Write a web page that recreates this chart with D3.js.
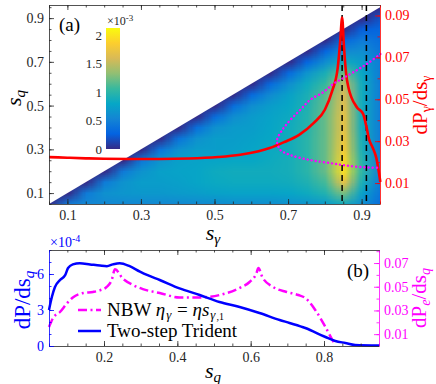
<!DOCTYPE html>
<html>
<head>
<meta charset="utf-8">
<script src="https://cdn.jsdelivr.net/npm/d3@7"></script>
<style>
  body { margin: 0; background: #fff; }
</style>
</head>
<body>
<svg id="fig" width="436" height="384"></svg>
<script>
// ---- data ----

// heat map nodes (s_gamma columns, s_q rows), values in units of 1e-3
var sgNodes = [0.05,0.10,0.15,0.20,0.25,0.30,0.35,0.40,0.45,0.50,0.55,0.60,0.65,0.70,0.75,0.80,0.85,0.90,0.95];
var sqNodes = [0.05,0.10,0.15,0.20,0.25,0.30,0.35,0.40,0.45,0.50,0.55,0.60,0.65,0.70,0.75,0.80,0.85,0.90,0.95];
// row j holds the values for s_gamma = sqNodes[j] ... 0.95 (diagonal first)
var heatRows = [
  [0, .45, .55, .55, .55, .55, .55, .56, .57, .58, .6, .6, .6, .62, .65, .7, .85, .6, .35],
  [0, .45, .62, .66, .68, .68, .7, .72, .75, .76, .76, .76, .78, .84, .95, 1.25, .75, .4],
  [0, .45, .64, .72, .72, .74, .78, .82, .84, .84, .84, .86, .93, 1.1, 1.7, .9, .45],
  [0, .45, .64, .74, .76, .78, .84, .86, .86, .86, .88, .98, 1.2, 1.95, 1.0, .5],
  [0, .42, .64, .74, .76, .78, .8, .8, .84, .88, .98, 1.2, 1.9, .95, .5],
  [0, .4, .62, .72, .72, .74, .78, .82, .86, .98, 1.2, 1.8, .9, .45],
  [0, .38, .62, .72, .72, .75, .8, .86, .98, 1.2, 1.75, .88, .45],
  [0, .36, .62, .7, .72, .78, .85, .96, 1.2, 1.7, .85, .45],
  [0, .35, .6, .7, .76, .83, .95, 1.2, 1.7, .85, .45],
  [0, .34, .6, .72, .8, .93, 1.18, 1.65, .85, .45],
  [0, .33, .58, .75, .9, 1.15, 1.6, .85, .45],
  [0, .32, .6, .84, 1.05, 1.5, .85, .45],
  [0, .32, .65, .9, 1.2, .8, .45],
  [0, .3, .6, .85, .7, .45],
  [0, .3, .55, .6, .4],
  [0, .3, .45, .35],
  [0, .25, .3],
  [0, .2],
  [0]
];
var cbTicks = [0, 0.5, 1, 1.5, 2];
var cbMax = 2.12;

// red solid curve, panel (a): dP_gamma/ds_gamma
var sgRed = [0.05,0.10,0.15,0.20,0.27,0.35,0.43,0.51,0.57,0.62,0.65,0.69,0.73,0.77,0.80,0.82,0.835,0.842,0.847,0.852,0.858,0.865,0.872,0.888,0.904,0.913,0.92,0.93,0.94,0.951];
var dPg = [0.0224,0.0221,0.0218,0.0216,0.0215,0.0215,0.0217,0.0224,0.0235,0.0252,0.0267,0.0296,0.033,0.0387,0.045,0.054,0.065,0.078,0.089,0.075,0.062,0.055,0.051,0.046,0.043,0.037,0.031,0.027,0.022,0.0105];

// magenta dotted curve, panel (a)
var sgDot = [0.951,0.918,0.888,0.85,0.823,0.796,0.76,0.733,0.706,0.684,0.67,0.672,0.679,0.706,0.76,0.815,0.85,0.896,0.951];
var sqDot = [0.736,0.695,0.663,0.626,0.599,0.562,0.526,0.48,0.434,0.388,0.343,0.32,0.297,0.274,0.251,0.237,0.228,0.219,0.215];

// black dashed markers, panel (a)
var sgMarks = [0.847, 0.913];

// panel (b): two-step trident (x1e-4) and NBW
var sqBlue = [0.05,0.058,0.066,0.08,0.094,0.102,0.115,0.134,0.162,0.189,0.208,0.224,0.243,0.27,0.298,0.319,0.352,0.406,0.461,0.515,0.57,0.624,0.679,0.706,0.749,0.804,0.831,0.858,0.885,0.95];
var dPq = [3.0,4.1,4.9,5.5,5.9,6.5,6.8,6.9,6.8,6.7,6.65,6.8,6.9,6.65,6.2,5.9,5.5,4.8,4.25,3.67,3.25,2.75,2.17,1.92,1.5,0.75,0.42,0.25,0.08,0.04];
var sqMag = [0.05,0.061,0.08,0.099,0.115,0.143,0.17,0.189,0.208,0.221,0.23,0.251,0.279,0.306,0.352,0.406,0.461,0.515,0.57,0.597,0.616,0.621,0.632,0.66,0.698,0.73,0.749,0.777,0.804,0.823,0.831];
var dPe = [0.016,0.0236,0.0287,0.036,0.041,0.0447,0.0456,0.047,0.05,0.0557,0.0647,0.057,0.0515,0.048,0.0447,0.041,0.041,0.043,0.049,0.054,0.0616,0.0658,0.058,0.05,0.0456,0.043,0.0405,0.030,0.016,0.005,0.0008];

// ticks
var sTicks = [0.1, 0.3, 0.5, 0.7, 0.9];
var sMinor = [0.05,0.1,0.15,0.2,0.25,0.3,0.35,0.4,0.45,0.5,0.55,0.6,0.65,0.7,0.75,0.8,0.85,0.9,0.95];
var redTicks = [0.01, 0.03, 0.05, 0.07, 0.09];
var redMinor = [0.01,0.02,0.03,0.04,0.05,0.06,0.07,0.08,0.09];
var sqTicksB = [0.2, 0.4, 0.6, 0.8];
var blueTicks = [0, 3, 6];
var blueMinor = [0,1,2,3,4,5,6,7,8];
var magTicks = [0.01, 0.03, 0.05, 0.07];
var magMinor = [0.01,0.02,0.03,0.04,0.05,0.06,0.07,0.08];

var parulaHex = ["#352a87","#0363e1","#1485d4","#06a7c6","#38b99e","#92bf73","#d9ba56","#fcce2e","#f9fb0e"];

// ---- drawing ----
var svg = d3.select("#fig"),
  FONT = "Liberation Serif",
  gray = "#262626";

var xT = d3.scaleLinear().domain([0.05, 0.95]).range([49, 380]),
  yT = d3.scaleLinear().domain([0.05, 0.96]).range([204, 5]),
  yR = d3.scaleLinear().domain([0, 0.095]).range([204, 5]);

var xB = d3.scaleLinear().domain([0.05, 0.95]).range([49, 379]),
  yB = d3.scaleLinear().domain([0, 8]).range([346, 250]),
  yBR = d3.scaleLinear().domain([0, 0.081]).range([346, 250]);

var parula = d3.scaleLinear()
  .domain(parulaHex.map(function (c, i) { return i / (parulaHex.length - 1) * cbMax; }))
  .range(parulaHex)
  .clamp(true);

// heat map: one pixel per node, scaled up smoothly and clipped to s_q < s_gamma
var nx = sgNodes.length, ny = sqNodes.length;
var cvs = document.createElement("canvas");
cvs.width = nx; cvs.height = ny;
var ctx = cvs.getContext("2d");
var img = ctx.createImageData(nx, ny);
heatRows.forEach(function (row, j) {
  for (var i = 0; i < nx; i++) {
    var v = i < j ? 0 : row[i - j];
    var c = d3.rgb(parula(v)), k = ((ny - 1 - j) * nx + i) * 4;
    img.data[k] = c.r; img.data[k + 1] = c.g; img.data[k + 2] = c.b; img.data[k + 3] = 255;
  }
});
ctx.putImageData(img, 0, 0);

var defs = svg.append("defs");
defs.append("clipPath").attr("id", "tri")
  .append("path")
  .attr("d", "M" + [xT(0.05), yT(0.05)] + "L" + [xT(0.95), yT(0.95)] + "L" + [xT(0.95), yT(0.05)] + "Z");

var dx = (sgNodes[1] - sgNodes[0]) / 2, dy = (sqNodes[1] - sqNodes[0]) / 2;
svg.append("image")
  .attr("clip-path", "url(#tri)")
  .attr("preserveAspectRatio", "none")
  .attr("x", xT(sgNodes[0] - dx))
  .attr("y", yT(sqNodes[ny - 1] + dy))
  .attr("width", xT(sgNodes[nx - 1] + dx) - xT(sgNodes[0] - dx))
  .attr("height", yT(sqNodes[0] - dy) - yT(sqNodes[ny - 1] + dy))
  .attr("href", cvs.toDataURL());

// colorbar
var cb = d3.scaleLinear().domain([0, cbMax]).range([149, 28]);
var grad = defs.append("linearGradient").attr("id", "cbgrad")
  .attr("x1", 0).attr("y1", 1).attr("x2", 0).attr("y2", 0);
grad.selectAll("stop").data(parulaHex).enter().append("stop")
  .attr("offset", function (d, i) { return i / (parulaHex.length - 1); })
  .attr("stop-color", function (d) { return d; });
svg.append("rect")
  .attr("x", 106).attr("width", 14)
  .attr("y", cb(cbMax)).attr("height", cb(0) - cb(cbMax))
  .attr("fill", "url(#cbgrad)");
var gcb = svg.append("g").attr("transform", "translate(106,0)")
  .call(d3.axisLeft(cb).tickValues(cbTicks).tickSize(0).tickPadding(4).tickFormat(d3.format("")))
  .attr("font-size", 13);
gcb.select(".domain").remove();
gcb.selectAll("text").attr("fill", gray);
var t3 = svg.append("text").attr("x", 107).attr("y", 25).attr("font-size", 12).attr("fill", gray);
t3.append("tspan").text("\u00d710");
t3.append("tspan").attr("dy", -4).attr("font-size", 9).text("-3");

// dashed marker lines
svg.selectAll(".mark").data(sgMarks).enter().append("line")
  .attr("x1", function (d) { return xT(d); }).attr("x2", function (d) { return xT(d); })
  .attr("y1", yT.range()[1]).attr("y2", yT.range()[0])
  .attr("stroke", "#000").attr("stroke-width", 1.5).attr("stroke-dasharray", "6,4");

// red curve
var redLine = d3.line()
  .x(function (d, i) { return xT(sgRed[i]); })
  .y(function (d) { return yR(d); })
  .curve(d3.curveMonotoneX);
svg.append("path").attr("d", redLine(dPg))
  .attr("fill", "none").attr("stroke", "#ff0000").attr("stroke-width", 2.6);

// magenta dotted curve
var dotLine = d3.line()
  .x(function (d, i) { return xT(sgDot[i]); })
  .y(function (d) { return yT(d); })
  .curve(d3.curveCatmullRom);
svg.append("path").attr("d", dotLine(sqDot))
  .attr("fill", "none").attr("stroke", "#ff00ff").attr("stroke-width", 2.4)
  .attr("stroke-linecap", "round").attr("stroke-dasharray", "0.1,4");

// axes helper
function styleAxis(g, color, fs) {
  g.attr("font-size", fs);
  g.select(".domain").attr("stroke", color).attr("stroke-width", 0.8);
  g.selectAll(".tick line").attr("stroke", color).attr("stroke-width", 0.8);
  g.selectAll(".tick text").attr("fill", color);
  return g;
}
function minorTicks(at, gen, vals, color) {
  var g = svg.append("g").attr("transform", at)
    .call(gen.tickValues(vals).tickSize(-2.5).tickFormat(""));
  g.select(".domain").remove();
  g.selectAll("line").attr("stroke", color).attr("stroke-width", 0.8);
}

// panel (a) axes
minorTicks("translate(0,204)", d3.axisBottom(xT), sMinor, gray);
minorTicks("translate(0,5)", d3.axisTop(xT), sMinor, gray);
minorTicks("translate(49,0)", d3.axisLeft(yT), sMinor, gray);
minorTicks("translate(380,0)", d3.axisRight(yR), redMinor, "#ff0000");
styleAxis(svg.append("g").attr("transform", "translate(0,204)")
  .call(d3.axisBottom(xT).tickValues(sTicks).tickSize(-5).tickSizeOuter(0).tickPadding(6).tickFormat(d3.format(".1f"))), gray, 14);
styleAxis(svg.append("g").attr("transform", "translate(0,5)")
  .call(d3.axisTop(xT).tickValues(sTicks).tickSize(-5).tickSizeOuter(0).tickFormat("")), gray, 14);
styleAxis(svg.append("g").attr("transform", "translate(49,0)")
  .call(d3.axisLeft(yT).tickValues(sTicks).tickSize(-5).tickSizeOuter(0).tickPadding(5).tickFormat(d3.format(".1f"))), gray, 14);
styleAxis(svg.append("g").attr("transform", "translate(380,0)")
  .call(d3.axisRight(yR).tickValues(redTicks).tickSize(-5).tickSizeOuter(0).tickPadding(5).tickFormat(d3.format(".2f"))), "#ff0000", 14);

// panel (a) labels
svg.append("text").attr("x", 59).attr("y", 31).attr("font-size", 19).attr("fill", "#000").text("(a)");
var lq = svg.append("text").attr("transform", "translate(21,98) rotate(-90)")
  .attr("text-anchor", "middle").attr("font-size", 22).attr("fill", "#000");
lq.append("tspan").attr("font-style", "italic").text("s");
lq.append("tspan").attr("font-style", "italic").attr("font-size", 15).attr("dy", 4).text("q");
var lg = svg.append("text").attr("x", 213).attr("y", 240)
  .attr("text-anchor", "middle").attr("font-size", 22).attr("fill", "#000");
lg.append("tspan").attr("font-style", "italic").text("s");
lg.append("tspan").attr("font-style", "italic").attr("font-size", 15).attr("dy", 4).text("\u03b3");
var lr = svg.append("text").attr("transform", "translate(427,105) rotate(-90)")
  .attr("text-anchor", "middle").attr("font-size", 21).attr("fill", "#ff0000");
lr.append("tspan").text("dP");
lr.append("tspan").attr("font-size", 14).attr("dy", 4).text("\u03b3");
lr.append("tspan").attr("dy", -4).text("/ds");
lr.append("tspan").attr("font-size", 14).attr("dy", 4).text("\u03b3");

// panel (b) curves
var blueLine = d3.line()
  .x(function (d, i) { return xB(sqBlue[i]); })
  .y(function (d) { return yB(d); })
  .curve(d3.curveMonotoneX);
var magLine = d3.line()
  .x(function (d, i) { return xB(sqMag[i]); })
  .y(function (d) { return yBR(d); })
  .curve(d3.curveMonotoneX);
svg.append("path").attr("d", magLine(dPe))
  .attr("fill", "none").attr("stroke", "#ff00ff").attr("stroke-width", 2.5)
  .attr("stroke-dasharray", "9,3.5,2,3.5");
svg.append("path").attr("d", blueLine(dPq))
  .attr("fill", "none").attr("stroke", "#0000ff").attr("stroke-width", 2.5);

// panel (b) axes
minorTicks("translate(0,346)", d3.axisBottom(xB), sMinor, gray);
minorTicks("translate(0,250)", d3.axisTop(xB), sMinor, gray);
minorTicks("translate(49,0)", d3.axisLeft(yB), blueMinor, "#0000ff");
minorTicks("translate(379,0)", d3.axisRight(yBR), magMinor, "#ff00ff");
styleAxis(svg.append("g").attr("transform", "translate(0,346)")
  .call(d3.axisBottom(xB).tickValues(sqTicksB).tickSize(-5).tickSizeOuter(0).tickPadding(6).tickFormat(d3.format(".1f"))), gray, 14);
styleAxis(svg.append("g").attr("transform", "translate(0,250)")
  .call(d3.axisTop(xB).tickValues(sqTicksB).tickSize(-5).tickSizeOuter(0).tickFormat("")), gray, 14);
styleAxis(svg.append("g").attr("transform", "translate(49,0)")
  .call(d3.axisLeft(yB).tickValues(blueTicks).tickSize(-5).tickSizeOuter(0).tickPadding(5).tickFormat(d3.format("d"))), "#0000ff", 14);
styleAxis(svg.append("g").attr("transform", "translate(379,0)")
  .call(d3.axisRight(yBR).tickValues(magTicks).tickSize(-5).tickSizeOuter(0).tickPadding(5).tickFormat(d3.format(".2f"))), "#ff00ff", 14);

// panel (b) labels
var t4 = svg.append("text").attr("x", 50).attr("y", 247).attr("font-size", 14).attr("fill", "#0000ff");
t4.append("tspan").text("\u00d710");
t4.append("tspan").attr("dy", -5).attr("font-size", 10).text("-4");
svg.append("text").attr("x", 347).attr("y", 277).attr("font-size", 19).attr("fill", "#000").text("(b)");
var lb = svg.append("text").attr("transform", "translate(30,300) rotate(-90)")
  .attr("text-anchor", "middle").attr("font-size", 23).attr("fill", "#0000ff");
lb.append("tspan").text("dP/ds");
lb.append("tspan").attr("font-style", "italic").attr("font-size", 15).attr("dy", 4).text("q");
var lm = svg.append("text").attr("transform", "translate(426,298) rotate(-90)")
  .attr("text-anchor", "middle").attr("font-size", 21).attr("fill", "#ff00ff");
lm.append("tspan").text("dP");
lm.append("tspan").attr("font-style", "italic").attr("font-size", 14).attr("dy", 4).text("e");
lm.append("tspan").attr("dy", -4).text("/ds");
lm.append("tspan").attr("font-style", "italic").attr("font-size", 14).attr("dy", 4).text("q");
var lx = svg.append("text").attr("x", 213).attr("y", 378)
  .attr("text-anchor", "middle").attr("font-size", 22).attr("fill", "#000");
lx.append("tspan").attr("font-style", "italic").text("s");
lx.append("tspan").attr("font-style", "italic").attr("font-size", 15).attr("dy", 4).text("q");

// legend
svg.append("line").attr("x1", 78).attr("x2", 101).attr("y1", 310).attr("y2", 310)
  .attr("stroke", "#ff00ff").attr("stroke-width", 2.5).attr("stroke-dasharray", "9,3.5,2,3.5");
svg.append("line").attr("x1", 78).attr("x2", 101).attr("y1", 331).attr("y2", 331)
  .attr("stroke", "#0000ff").attr("stroke-width", 2.5);
var l1 = svg.append("text").attr("x", 107).attr("y", 316).attr("font-size", 19).attr("fill", "#000");
l1.append("tspan").text("NBW ");
l1.append("tspan").attr("font-style", "italic").text("\u03b7");
l1.append("tspan").attr("font-style", "italic").attr("font-size", 13).attr("dx", 1).attr("dy", 3).text("\u03b3");
l1.append("tspan").attr("dx", 1).attr("dy", -3).text(" = ");
l1.append("tspan").attr("font-style", "italic").text("\u03b7s");
l1.append("tspan").attr("font-style", "italic").attr("font-size", 13).attr("dx", 1).attr("dy", 3).text("\u03b3");
l1.append("tspan").attr("font-size", 10).attr("dx", 1).attr("dy", 1).text(",1");
svg.append("text").attr("x", 107).attr("y", 337).attr("font-size", 19).attr("fill", "#000").text("Two-step Trident");

// serif everywhere (inline style, one family name)
svg.selectAll("text").style("font-family", FONT);
</script>
</body>
</html>
